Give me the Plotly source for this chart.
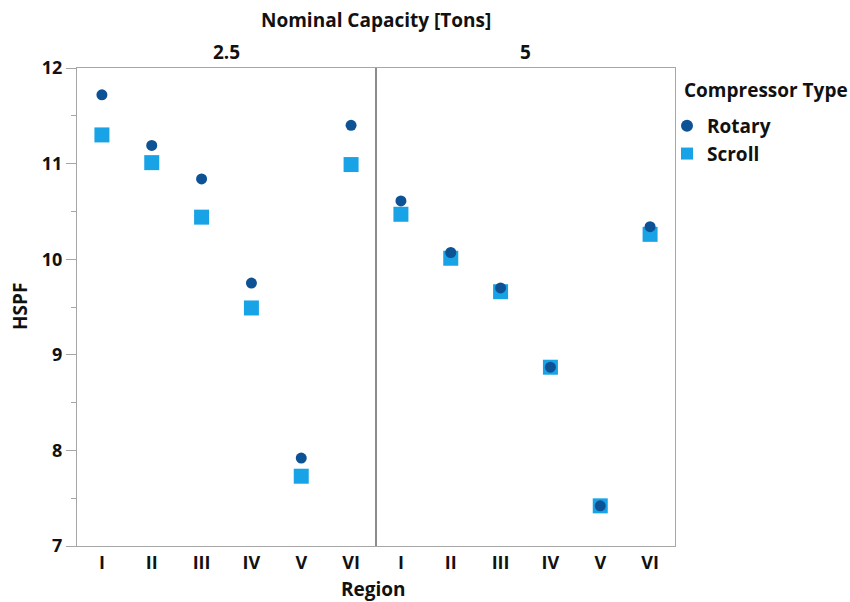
import plotly.graph_objects as go
from plotly.subplots import make_subplots

# Regions (categories) and panels by nominal capacity
regions = ["I", "II", "III", "IV", "V", "VI"]
capacities = ["2.5", "5"]

# HSPF by compressor type, one list per capacity panel
rotary_25 = [11.72, 11.19, 10.84, 9.75, 7.92, 11.40]
scroll_25 = [11.30, 11.01, 10.44, 9.49, 7.73, 10.99]
rotary_5 = [10.61, 10.07, 9.70, 8.87, 7.42, 10.34]
scroll_5 = [10.47, 10.01, 9.66, 8.87, 7.42, 10.26]

y_ticks = [7, 8, 9, 10, 11, 12]

ROTARY = "#0E5296"
SCROLL = "#17A3E6"
FONT = "Open Sans"
W, H = 850, 602

# plot area in pixels
left, right, top, bottom, mid = 77, 675, 68, 546, 376

fig = make_subplots(rows=1, cols=2, shared_yaxes=True, horizontal_spacing=0)

panels = [(scroll_25, rotary_25), (scroll_5, rotary_5)]
for i, (sc, ro) in enumerate(panels, start=1):
    fig.add_trace(go.Scatter(
        x=regions, y=sc, mode="markers", name="Scroll",
        legendgroup="Scroll", showlegend=(i == 1), legendrank=2,
        marker=dict(symbol="square", size=15, color=SCROLL),
    ), row=1, col=i)
    fig.add_trace(go.Scatter(
        x=regions, y=ro, mode="markers", name="Rotary",
        legendgroup="Rotary", showlegend=(i == 1), legendrank=1,
        marker=dict(symbol="circle", size=11, color=ROTARY),
    ), row=1, col=i)

ydom = [1 - bottom / H, 1 - top / H]
axis_line = "#A6A6A6"
tick_font = dict(family=FONT, size=18, color="#111111", weight="bold")

fig.update_xaxes(type="category", categoryorder="array", categoryarray=regions,
                 range=[-0.5, 5.5], showgrid=False, zeroline=False,
                 showline=True, linecolor=axis_line, linewidth=1, mirror=True,
                 ticks="", tickfont=tick_font, automargin=False)
fig.update_layout(
    xaxis=dict(domain=[left / W, mid / W]),
    xaxis2=dict(domain=[mid / W, right / W]),
)
fig.update_yaxes(range=[7, 12], domain=ydom, showgrid=False, zeroline=False,
                 showline=True, linecolor=axis_line, linewidth=1, mirror=True,
                 automargin=False)
fig.update_yaxes(tickvals=y_ticks, ticks="outside", ticklen=10,
                 tickcolor=axis_line, tickfont=tick_font,
                 minor=dict(dtick=0.5, ticks="outside", ticklen=5, tickcolor=axis_line),
                 row=1, col=1)
fig.update_yaxes(showticklabels=False, ticks="", row=1, col=2)

# panel divider
fig.add_shape(type="line", xref="paper", yref="paper",
              x0=mid / W, x1=mid / W, y0=ydom[0], y1=ydom[1],
              line=dict(color="#8C8C8C", width=2))

title_font = dict(family=FONT, size=19, color="#111111", weight="bold")
annotations = [
    dict(text="Nominal Capacity [Tons]", x=mid / W, y=1 - 20 / H),
    dict(text=capacities[0], x=(left + mid) / 2 / W, y=1 - 52 / H),
    dict(text=capacities[1], x=(mid + right) / 2 / W, y=1 - 52 / H),
    dict(text="Region", x=373 / W, y=1 - 589 / H),
    dict(text="HSPF", x=20 / W, y=1 - 307 / H, textangle=-90),
]
for a in annotations:
    fig.add_annotation(xref="paper", yref="paper", showarrow=False,
                       xanchor="center", yanchor="middle", font=title_font, **a)

# legend heading
fig.add_annotation(xref="paper", yref="paper", showarrow=False,
                   text="Compressor Type", x=682 / W, y=1 - 90 / H,
                   xanchor="left", yanchor="middle", font=title_font)

fig.update_layout(
    width=W, height=H,
    margin=dict(l=0, r=0, t=0, b=0, autoexpand=False),
    paper_bgcolor="white", plot_bgcolor="white",
    legend=dict(
        font=dict(family=FONT, size=19, color="#111111", weight="bold"),
        x=667 / W, y=1 - 107 / H,
        xanchor="left", yanchor="top", itemsizing="constant",
        itemwidth=30, tracegroupgap=0, bgcolor="rgba(0,0,0,0)",
    ),
)

fig.write_html("out.html")
